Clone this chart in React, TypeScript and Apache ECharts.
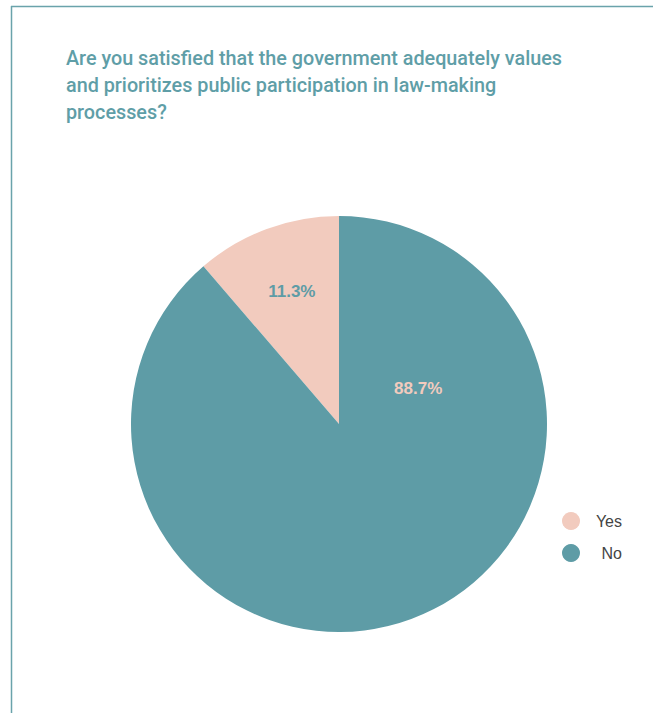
import React, { useEffect, useRef } from "react";
import * as echarts from "echarts";

const titleLines = [
  "Are you satisfied that the government adequately values",
  "and prioritizes public participation in law-making",
  "processes?",
];
const categories = ["Yes", "No"];
const values = [11.3, 88.7];
const colors = ["#f2cbbe", "#5e9ca6"];
const labelColors = ["#5e9ca6", "#f2cbbe"];

export default function App() {
  const ref = useRef<HTMLDivElement>(null);
  useEffect(() => {
    document.body.style.margin = "0";
    const chart = echarts.init(ref.current!, null, { renderer: "svg" });
    chart.setOption({
      animation: false,
      backgroundColor: "#ffffff",
      title: {
        text: titleLines.join("\n"),
        left: 61,
        top: 40,
        textStyle: {
          fontFamily: "Roboto",
          fontWeight: 500,
          fontSize: 19.8,
          lineHeight: 27,
          color: "#5f9ea7",
        },
      },
      legend: {
        orient: "vertical",
        left: 557,
        top: 507,
        icon: "circle",
        itemWidth: 18,
        itemHeight: 18,
        itemGap: 14,
        data: categories,
        formatter: (name: string) => `{n|${name}}`,
        textStyle: {
          rich: {
            n: {
              width: 37,
              align: "right",
              fontFamily: "Liberation Sans",
              fontSize: 16,
              color: "#444444",
            },
          },
        },
      },
      graphic: [
        {
          type: "line",
          shape: { x1: 11.5, y1: 6, x2: 11.5, y2: 713 },
          style: { stroke: "#6aa3ab", lineWidth: 1.5 },
        },
        {
          type: "line",
          shape: { x1: 11, y1: 6.5, x2: 653, y2: 6.5 },
          style: { stroke: "#6aa3ab", lineWidth: 1.5 },
        },
      ],
      series: [
        {
          type: "pie",
          center: [339, 424],
          radius: 208,
          clockwise: false,
          startAngle: 90,
          label: {
            show: true,
            position: "inside",
            formatter: (p: any) => p.value.toFixed(1) + "%",
            fontFamily: "Liberation Sans",
            fontWeight: "bold",
            fontSize: 17,
          },
          labelLine: { show: false },
          emphasis: { disabled: true },
          data: categories.map((name, i) => ({
            name,
            value: values[i],
            itemStyle: { color: colors[i] },
            label: {
              color: labelColors[i],
              offset: i === 0 ? [-10, -32] : [42, -136],
            },
          })),
        },
      ],
    });
    return () => chart.dispose();
  }, []);
  return <div ref={ref} style={{ width: 653, height: 713 }} />;
}
